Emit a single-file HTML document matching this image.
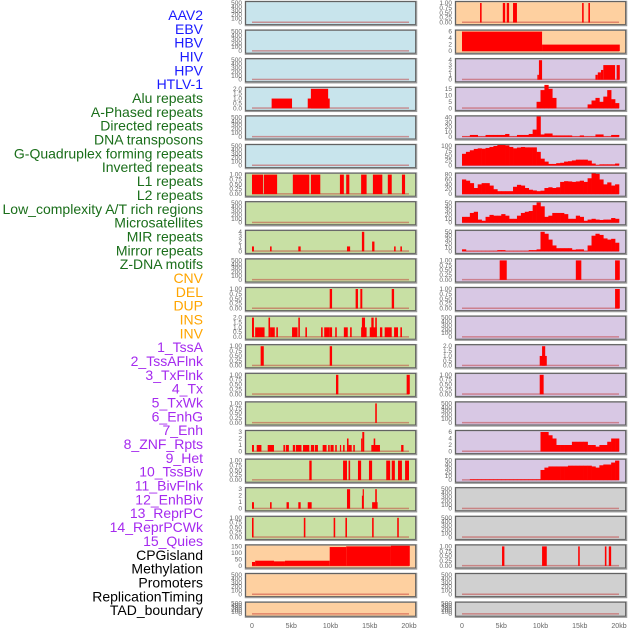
<!DOCTYPE html>
<html><head><meta charset="utf-8">
<style>
html,body{margin:0;padding:0;background:#fff;width:630px;height:630px;overflow:hidden}
svg{display:block}
text{font-family:"Liberation Sans",sans-serif}
</style></head>
<body>
<svg id="chart" width="630" height="630" viewBox="0 0 630 630"></svg>
<script>
// ---- labels ----
const labels = ["AAV2","EBV","HBV","HIV","HPV","HTLV-1","Alu repeats","A-Phased repeats","Directed repeats","DNA transposons","G-Quadruplex forming repeats","Inverted repeats","L1 repeats","L2 repeats","Low_complexity A/T rich regions","Microsatellites","MIR repeats","Mirror repeats","Z-DNA motifs","CNV","DEL","DUP","INS","INV","1_TssA","2_TssAFlnk","3_TxFlnk","4_Tx","5_TxWk","6_EnhG","7_Enh","8_ZNF_Rpts","9_Het","10_TssBiv","11_BivFlnk","12_EnhBiv","13_ReprPC","14_ReprPCWk","15_Quies","CPGisland","Methylation","Promoters","ReplicationTiming","TAD_boundary"];
const labelColors = ["#1a1aff","#1a1aff","#1a1aff","#1a1aff","#1a1aff","#1a1aff","#1a6e1a","#1a6e1a","#1a6e1a","#1a6e1a","#1a6e1a","#1a6e1a","#1a6e1a","#1a6e1a","#1a6e1a","#1a6e1a","#1a6e1a","#1a6e1a","#1a6e1a","#ffa500","#ffa500","#ffa500","#ffa500","#ffa500","#a52aef","#a52aef","#a52aef","#a52aef","#a52aef","#a52aef","#a52aef","#a52aef","#a52aef","#a52aef","#a52aef","#a52aef","#a52aef","#a52aef","#a52aef","#000","#000","#000","#000","#000"];

// ---- tick sets ----
const tk500 = [0,100,200,300,400,500];
const tk1 = [0,0.25,0.5,0.75,1];
const tk2 = [0,0.5,1,1.5,2];
const tk3 = [0,1,2,3];
const tk4 = [0,1,2,3,4];
const tk6 = [0,2,4,6];
const tk15 = [0,5,10,15];
const tk40 = [0,10,20,30,40];
const tk50 = [0,10,20,30,40,50];
const tk100 = [0,25,50,75,100];
const tk80 = [0,20,40,60,80];
const tk150 = [0,50,100,150];

// ---- segment data [startKb, endKb, value] ----
const L4 = [[2.5,5.1,1],[7.1,9.9,1],[7.5,9.7,2]];
const L7 = [[0,1.4,1],[1.5,3.2,1],[5.2,7.3,1],[7.5,8.7,1],[11.2,11.7,1],[12,12.4,1],[13.9,14.6,1],[15.4,16.6,1],[17.3,17.8,1],[19.1,19.5,1]];
const L9 = [[0,0.25,1],[2.3,2.5,1],[5.9,6.2,1],[12.1,12.5,1],[14,14.3,4],[15.3,15.6,2],[18.1,18.3,1],[18.9,19.1,1]];
const L11 = [[9.9,10.2,1],[13.2,13.5,1],[13.8,14.05,1],[17.8,18.1,1]];
const L12 = [[0,0.25,2],[0.4,1.6,1],[2.1,2.3,2],[2.3,2.9,1],[3.1,3.3,1],[5.1,5.8,1],[5.9,6.1,2],[6.8,7.0,1],[8.8,9.0,1],[9.2,9.9,1],[9.9,10.2,1],[10.6,10.8,1],[11.7,12.2,1],[12.5,12.7,1],[13.9,14.6,1],[14.0,14.4,2],[15.0,15.9,1],[15.2,15.5,2],[15.7,15.9,2],[16.3,16.6,1],[16.9,17.8,1],[18.1,18.6,1],[18.9,19.1,1]];
const L13 = [[1.1,1.5,1],[9.9,10.2,1]];
const L14 = [[10.7,11.0,1],[19.7,20.1,1]];
const L15 = [[15.7,15.9,1]];
const L16 = [[0,0.25,1],[0.6,1.2,1],[2.0,2.8,1],[4.0,4.2,1],[4.3,4.7,1],[5.2,5.5,1],[5.6,6.3,1],[6.5,7.3,1],[7.5,7.9,1],[8.0,8.4,1],[9.0,9.5,1],[9.7,9.9,1],[10.0,10.4,1],[10.6,10.8,1],[11.2,11.35,1],[11.6,11.8,1],[12.1,12.3,2],[12.3,12.7,1],[12.9,13.1,1],[13.9,14.05,2],[14.05,14.3,3],[15.2,16.3,1],[15.5,15.7,2],[19.0,19.3,1]];
const L17 = [[7.3,7.6,1],[11.6,12.1,1],[12.3,12.5,1],[13.5,13.9,1],[14.9,15.3,1],[17.1,17.6,1],[17.8,18.2,1],[18.6,19.1,1],[19.5,20.0,1]];
const L18 = [[0,0.25,1],[2.3,2.5,1],[4.4,4.7,1],[5.9,6.2,1],[7.1,7.6,1],[12.1,12.5,3],[14.0,14.2,2],[14.1,14.2,3],[15.3,16.0,1],[15.7,15.9,3]];
const L19 = [[0,0.2,1],[6.6,6.8,1],[10.4,10.6,1],[11.9,12.1,1],[15.3,15.5,1],[18.5,18.7,1]];
const L20 = [[0,0.4,30],[0.4,2.8,40],[2.8,4.2,35],[4.2,9.9,40],[9.9,12,145],[12,17.7,150],[17.7,20.1,155]];
const R1 = [[2.3,2.5,1],[5.2,5.5,1],[5.7,6.0,1],[6.5,7.0,1],[15.3,15.5,1],[16.1,16.3,1]];
const R2 = [[0,10.2,6],[10.2,20.1,2]];
const R3 = [[9.6,9.8,1],[9.8,10.2,4],[17.0,17.3,1],[17.3,17.7,1.5],[17.7,18.0,2],[18.0,19.5,3],[19.7,20.1,3]];
const R10 = [[4.8,5.7,1],[14.5,15.2,1],[19.5,20.1,1]];
const R11 = [[19.5,20.1,1]];
const R13 = [[9.9,10.8,1],[10.2,10.6,2]];
const R14 = [[9.9,10.4,1]];
const R20 = [[5.1,5.4,1],[10.2,10.8,1],[14.8,15.0,1],[18.2,18.4,1],[18.7,19.0,1]];
const empty = [];

// ---- binned data (0.5kb bins, 0–20kb) ----
const R4bins = [0,0,0,0,0,0,0,0,0,0,0,0,0,0,0,0,0,0,0,5,14,18,15,8,0,0,0,0,0,0,0,0,3,6,8,5,9,14,7,4];
const R5bins = [1,1,4,4,1,1,4,4,4,4,4,6,1,1,4,4,4,6,15,42,5,7,7,3,3,3,3,3,1,1,3,1,1,1,5,5,1,1,4,4];
const R6bins = [60,70,78,85,88,86,90,95,100,105,105,103,95,88,92,95,93,93,93,70,35,20,8,8,12,14,20,22,26,30,30,30,25,10,3,6,6,6,6,10];
const R7bins = [60,55,45,25,40,45,45,35,20,12,12,12,12,30,38,35,25,18,15,12,14,25,28,25,28,50,53,52,50,52,55,50,65,85,83,60,40,48,35,40];
const R8bins = [15,15,25,28,8,5,15,20,18,18,22,18,10,10,18,25,28,30,45,52,42,15,18,25,25,25,22,10,10,18,15,5,8,10,8,7,8,8,12,10];
const R9bins = [5,1,1,1,1,1,1,1,1,3,3,1,1,1,1,1,1,3,3,5,50,45,30,15,8,8,8,8,4,5,5,1,15,40,45,42,33,30,32,22];
const R16bins = [0,0,0,0,0,0,0,0,0,0,0,0,0,0,0,0,0,0,0,0,6,6,5,4,2,2,2,2,3,3,3,3,2,2,1.5,2,2,3,4,4];
const R17bins = [0,0,2,2,2,2,2,2,2,2,2,2,2,2,2,2,2,2,2,2,26,32,35,35,35,35,35,37,37,37,37,37,37,35,32,38,40,40,45,50];

const BLUE="#c8e4ec", GREEN="#c8e0a4", PEACH="#fed0a0", LAV="#d8c8e4", GRAY="#d0d0d0";
const leftCol = [
 [BLUE,tk500,empty,null],[BLUE,tk500,empty,null],[BLUE,tk500,empty,null],[BLUE,tk2,L4,null],
 [BLUE,tk500,empty,null],[BLUE,tk500,empty,null],[GREEN,tk1,L7,null],[GREEN,tk500,empty,null],
 [GREEN,tk4,L9,null],[GREEN,tk500,empty,null],[GREEN,tk1,L11,null],[GREEN,tk2,L12,null],
 [GREEN,tk1,L13,null],[GREEN,tk1,L14,null],[GREEN,tk1,L15,null],[GREEN,tk3,L16,null],
 [GREEN,tk1,L17,null],[GREEN,tk3,L18,null],[GREEN,tk1,L19,null],[PEACH,tk150,L20,null],
 [PEACH,tk500,empty,null],[PEACH,tk500,empty,null]];
const rightCol = [
 [PEACH,tk1,R1,null],[PEACH,tk6,R2,null],[LAV,tk4,R3,null],[LAV,tk15,empty,R4bins],
 [LAV,tk40,empty,R5bins],[LAV,tk100,empty,R6bins],[LAV,tk80,empty,R7bins],[LAV,tk50,empty,R8bins],
 [LAV,tk50,empty,R9bins],[LAV,tk1,R10,null],[LAV,tk1,R11,null],[LAV,tk500,empty,null],
 [LAV,tk2,R13,null],[LAV,tk1,R14,null],[LAV,tk500,empty,null],[LAV,tk6,empty,R16bins],
 [LAV,tk50,empty,R17bins],[GRAY,tk500,empty,null],[GRAY,tk500,empty,null],[GRAY,tk1,R20,null],
 [GRAY,tk500,empty,null],[GRAY,tk500,empty,null]];
const xTicks = [0,5,10,15,20];
const xTickLabels = ["0","5kb","10kb","15kb","20kb"];

const NS="http://www.w3.org/2000/svg";
const svg=document.getElementById('chart');
function mk(tag,attrs,parent){const e=document.createElementNS(NS,tag);for(const k in attrs)e.setAttribute(k,attrs[k]);(parent||svg).appendChild(e);return e;}

// labels
const lg=mk('g',{});


labels.forEach((t,i)=>{
  const e=mk('text',{x:203,y:20+i*13.84,'text-anchor':'end','font-size':'14',fill:labelColors[i]},lg);
  e.textContent=t;
  
  
});

function fmt(v,ticks){const dec=ticks.some(t=>t%1!==0)?(ticks.some(t=>Math.round(t*100)%50!==0)?2:1):0;return v.toFixed(dec);}

function drawCol(col,px0,colName){
  const x0=px0, pw=171, dx0=px0+7, kbw=7.85;
  const xs=kb=>dx0+kb*kbw;
  col.forEach((tr,i)=>{
    const [bg,ticks,segs,bins]=tr;
    const top=1+i*28.6, h=(i===21)?15:24;
    const g=mk('g',{});
    
    
    mk('rect',{x:x0+0.5,y:top+0.5,width:pw,height:h,fill:bg,stroke:'#9a9a9a','stroke-width':1.5},g);
    mk('rect',{x:x0+0.5,y:top+0.5,width:pw-1,height:h-1,fill:'none',stroke:'#555','stroke-width':0.8},g);
    const yb=top+h-2.5, yt=top+2, mx=ticks[ticks.length-1];
    const ys=v=>yb-(v/mx)*(yb-yt);
    ticks.forEach(t=>{
      const tx=mk('text',{x:x0-3,y:ys(t)+2,'text-anchor':'end','font-size':'6.5',fill:'#666'},g);
      tx.textContent=fmt(t,ticks);
      
      
    });
    mk('rect',{x:xs(0),y:yb-1,width:xs(20)-xs(0),height:1.5,fill:'rgba(190,40,40,0.45)'},g);
    segs.forEach(s=>{
      const r=mk('rect',{x:xs(s[0]),y:ys(s[2]),width:Math.max(1.2,xs(s[1])-xs(s[0])),height:yb-ys(s[2]),fill:'#ff0000'},g);
      
      
    });
    if(bins){
      bins.forEach((v,j)=>{
        if(v<=0)return;
        const r=mk('rect',{x:xs(j*0.5),y:ys(v),width:xs(0.5)-xs(0)+0.3,height:yb-ys(v),fill:'#ff0000'},g);
        
        
      });
    }
  });
  const ax=mk('g',{});
  
  
  xTicks.forEach((t,k)=>{
    const tx=mk('text',{x:xs(t),y:628,'text-anchor':'middle','font-size':'7',fill:'#666'},ax);
    tx.textContent=xTickLabels[k];
    
    
  });
}
drawCol(leftCol,245,'left');
drawCol(rightCol,455,'right');
</script>
</body></html>
